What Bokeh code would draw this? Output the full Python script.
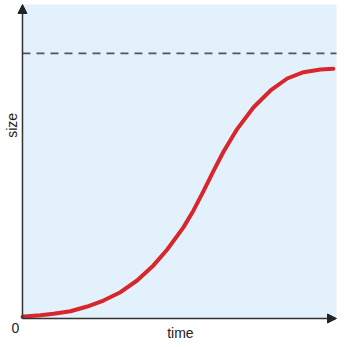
from bokeh.plotting import figure
from bokeh.models import Range1d, Arrow, NormalHead
from bokeh.core.properties import value
from bokeh.embed import file_html
from bokeh.resources import INLINE

# data (time 0..10, size 0..100)
time = [0.0, 0.04, 0.57, 0.99, 1.53, 2.06, 2.58, 3.12, 3.65, 4.17, 4.61, 5.13, 5.45,
        5.76, 6.08, 6.40, 6.84, 7.36, 7.90, 8.43, 8.95, 9.49, 9.90]
size = [0.5, 0.64, 1.05, 1.50, 2.32, 3.82, 5.73, 8.38, 12.10, 16.9, 21.96, 29.1, 34.5,
        40.5, 46.9, 53.1, 60.4, 67.29, 72.61, 76.43, 78.44, 79.30, 79.52]
carrying_capacity = 84.4
x_label = "time"
y_label = "size"
origin_label = "0"

W, H = 349, 347
p = figure(width=W, height=H, output_backend="svg", toolbar_location=None,
           x_axis_location=None, y_axis_location=None,
           x_range=Range1d(-0.70, 10.414), y_range=Range1d(-9.236, 101.27),
           min_border=0, min_border_left=0, min_border_right=0,
           min_border_top=0, min_border_bottom=0)
p.outline_line_color = None
p.grid.visible = False
p.background_fill_color = "white"
p.border_fill_color = "white"

# light blue panel
p.quad(left=0, right=10, bottom=0, top=100, fill_color="#e2f1fb", line_color=None)

# dashed asymptote
p.line([0, 10], [carrying_capacity, carrying_capacity], line_color="#50565b",
       line_width=1.7, line_dash="8 6")

# growth curve
p.line(time, size, line_color="#d8262c", line_width=4, line_cap="round", line_join="round")

# axes with arrows
head_kw = dict(size=9, fill_color="#222222", line_color="#222222", line_width=1)
p.add_layout(Arrow(end=NormalHead(**head_kw), x_start=0, y_start=0, x_end=0, y_end=100,
                   line_color="#333333", line_width=1.5))
p.add_layout(Arrow(end=NormalHead(**head_kw), x_start=0, y_start=0, x_end=10, y_end=0,
                   line_color="#333333", line_width=1.5))

font = value("Liberation Sans")
p.text(x=[-0.223], y=[-2.87], text=[origin_label], text_font=font, text_font_size="14px",
       text_align="center", text_baseline="middle", text_color="#222222")
p.text(x=[5.03], y=[-4.46], text=[x_label], text_font=font, text_font_size="14px",
       text_align="center", text_baseline="middle", text_color="#222222")
p.text(x=[-0.318], y=[61.5], text=[y_label], text_font=font, text_font_size="14px",
       text_align="center", text_baseline="middle", angle=1.5708, text_color="#222222")

open("out.html", "w").write(file_html(p, INLINE))
